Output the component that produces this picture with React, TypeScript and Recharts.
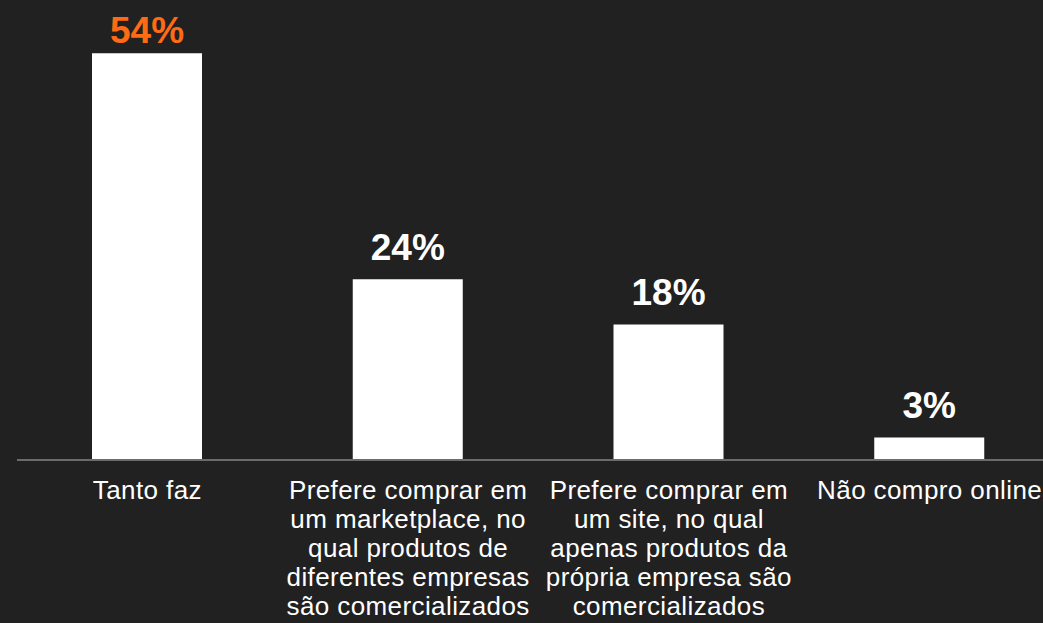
import { Bar, BarChart, LabelList, XAxis, YAxis } from "recharts";

const CATEGORIES = ["Tanto faz", "Marketplace", "Site próprio", "Não compro online"];

const CATEGORY_LINES: string[][] = [
  ["Tanto faz"],
  [
    "Prefere comprar em",
    "um marketplace, no",
    "qual produtos de",
    "diferentes empresas",
    "são comercializados",
  ],
  [
    "Prefere comprar em",
    "um site, no qual",
    "apenas produtos da",
    "própria empresa são",
    "comercializados",
  ],
  ["Não compro online"],
];

const VALUES = [54, 24, 18, 3];

const HIGHLIGHT_INDEX = 0;

const BG = "#212121";
const ORANGE = "#ff6a14";
const FONT = '"Liberation Sans", Arial, sans-serif';

const data = CATEGORIES.map((name, i) => ({
  name,
  value: VALUES[i],
}));

function CategoryTick({ x, y, payload, index }: any) {
  const lines = CATEGORY_LINES[index ?? payload?.index ?? 0] ?? [payload.value];
  return (
    <text
      x={x}
      y={y}
      textAnchor="middle"
      fill="#ffffff"
      fontSize={26}
      letterSpacing={0.4}
      fontFamily={FONT}
    >
      {lines.map((line, i) => (
        <tspan key={i} x={x} dy={i === 0 ? 39 : 29}>
          {line}
        </tspan>
      ))}
    </text>
  );
}

function ValueLabel({ x, y, width, value, index }: any) {
  // top label is held inside the chart area
  const baseline = Math.max(Number(y) - 19, 43);
  return (
    <text
      x={Number(x) + Number(width) / 2}
      y={baseline}
      textAnchor="middle"
      fill={index === HIGHLIGHT_INDEX ? ORANGE : "#ffffff"}
      fontSize={37}
      fontWeight="bold"
      fontFamily={FONT}
    >
      {value}%
    </text>
  );
}

export default function App() {
  return (
    <div
      style={{
        position: "fixed",
        left: 0,
        top: 0,
        width: 1043,
        height: 623,
        overflow: "hidden",
        background: BG,
      }}
    >
      <BarChart
        width={1060}
        height={623}
        data={data}
        margin={{ top: 8, right: 0, bottom: 0, left: 17 }}
        barCategoryGap={0}
      >
        <YAxis hide domain={[0, 60]} />
        <XAxis
          dataKey="name"
          height={163}
          interval={0}
          tickLine={false}
          tickSize={0}
          tickMargin={0}
          axisLine={{ stroke: "#6b6b6b", strokeWidth: 2 }}
          tick={<CategoryTick />}
        />
        <Bar dataKey="value" fill="#ffffff" barSize={110} isAnimationActive={false}>
          <LabelList dataKey="value" content={<ValueLabel />} />
        </Bar>
      </BarChart>
    </div>
  );
}
